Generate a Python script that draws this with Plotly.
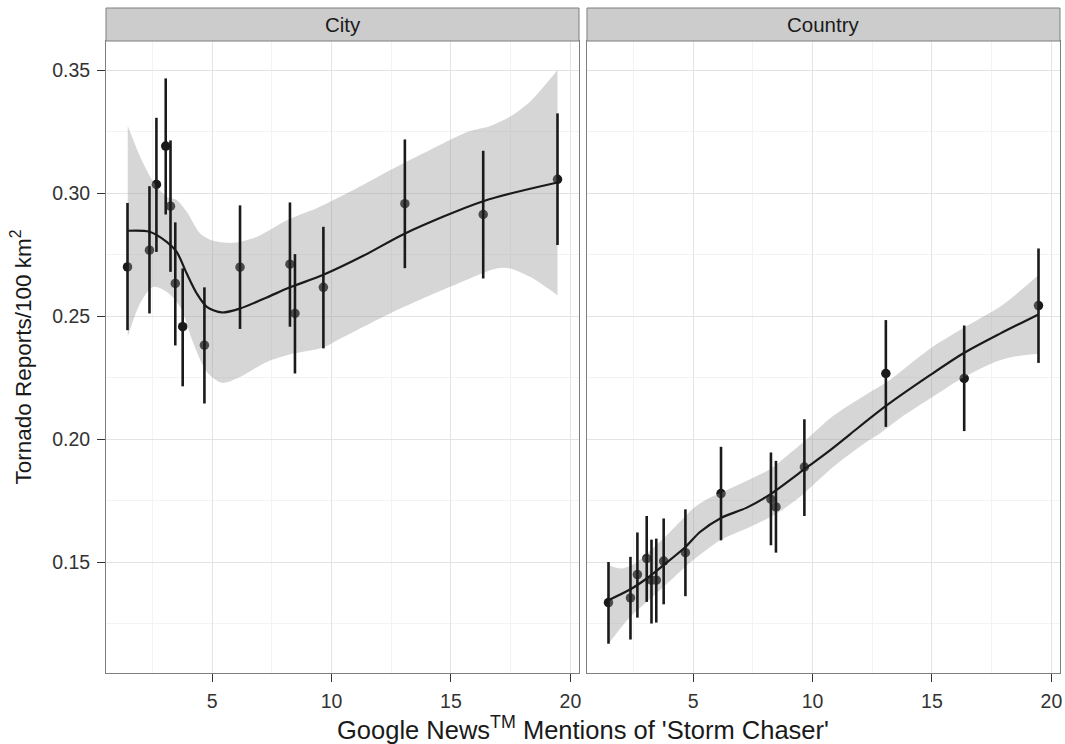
import plotly.graph_objects as go
from plotly.subplots import make_subplots

# ---------------- data ----------------
mentions = [1.46, 2.38, 2.67, 3.06, 3.26, 3.46, 3.77, 4.68, 6.17, 8.26, 8.47, 9.66, 13.07, 16.35, 19.46]

city_y = [0.2700, 0.2768, 0.3035, 0.3191, 0.2947, 0.2633, 0.2457, 0.2382, 0.2699, 0.2711, 0.2511, 0.2617, 0.2957, 0.2913, 0.3056]
city_lo = [0.2443, 0.2511, 0.2761, 0.2913, 0.2680, 0.2381, 0.2215, 0.2145, 0.2448, 0.2457, 0.2267, 0.2369, 0.2695, 0.2653, 0.2789]
city_hi = [0.2960, 0.3028, 0.3306, 0.3466, 0.3214, 0.2881, 0.2694, 0.2617, 0.2950, 0.2962, 0.2752, 0.2863, 0.3218, 0.3172, 0.3324]

country_y = [0.1336, 0.1355, 0.1450, 0.1515, 0.1427, 0.1427, 0.1505, 0.1539, 0.1779, 0.1756, 0.1725, 0.1887, 0.2267, 0.2247, 0.2543]
country_lo = [0.1169, 0.1186, 0.1275, 0.1339, 0.1251, 0.1255, 0.1329, 0.1362, 0.1589, 0.1569, 0.1539, 0.1688, 0.2050, 0.2033, 0.2310]
country_hi = [0.1501, 0.1522, 0.1621, 0.1688, 0.1592, 0.1596, 0.1678, 0.1715, 0.1969, 0.1946, 0.1912, 0.2081, 0.2484, 0.2462, 0.2775]

# smoothed fit
city_fit_x = [1.47, 2.38, 3.10, 3.52, 3.94, 4.36, 4.78, 5.41, 6.17, 7.29, 8.26, 9.66, 11.33, 13.08, 16.35, 19.46]
city_fit_y = [0.2847, 0.2843, 0.2802, 0.2761, 0.2673, 0.2592, 0.2538, 0.2515, 0.2531, 0.2576, 0.2617, 0.2668, 0.2745, 0.2836, 0.2967, 0.3043]
city_up_x = [1.47, 1.99, 2.54, 3.10, 3.52, 3.94, 4.50, 5.05, 5.89, 6.87, 8.13, 9.38, 10.77, 12.45, 14.12, 15.79, 16.63, 17.47, 18.31, 19.00, 19.46]
city_up_y = [0.3274, 0.3148, 0.3046, 0.2985, 0.2972, 0.2924, 0.2836, 0.2806, 0.2798, 0.2822, 0.2890, 0.2938, 0.3005, 0.3093, 0.3175, 0.3252, 0.3272, 0.3310, 0.3371, 0.3446, 0.3500]
city_low_x = [1.47, 1.99, 2.54, 3.10, 3.66, 4.22, 4.78, 5.41, 6.17, 7.29, 8.40, 9.66, 10.36, 12.45, 14.96, 16.91, 17.47, 18.31, 19.46]
city_low_y = [0.2416, 0.2552, 0.2619, 0.2599, 0.2538, 0.2389, 0.2274, 0.2229, 0.2253, 0.2314, 0.2348, 0.2373, 0.2408, 0.2511, 0.2619, 0.2694, 0.2694, 0.2660, 0.2585]

country_fit_x = [1.46, 2.36, 3.06, 3.76, 4.68, 5.29, 6.17, 7.25, 8.26, 9.66, 10.73, 11.57, 13.06, 14.92, 16.35, 17.85, 19.46]
country_fit_y = [0.1346, 0.1389, 0.1434, 0.1488, 0.1562, 0.1623, 0.1680, 0.1722, 0.1778, 0.1878, 0.1955, 0.2020, 0.2134, 0.2260, 0.2351, 0.2429, 0.2507]
country_up_x = [1.46, 2.02, 2.57, 3.13, 3.83, 4.38, 5.08, 5.64, 6.34, 7.38, 8.22, 8.92, 9.76, 10.87, 12.27, 13.10, 14.92, 16.35, 17.85, 18.82, 19.46]
country_up_y = [0.1488, 0.1475, 0.1495, 0.1542, 0.1603, 0.1657, 0.1725, 0.1759, 0.1790, 0.1837, 0.1878, 0.1932, 0.2000, 0.2095, 0.2183, 0.2231, 0.2368, 0.2454, 0.2538, 0.2613, 0.2667]
country_low_x = [1.46, 2.36, 2.99, 3.69, 4.67, 5.29, 6.13, 7.38, 8.50, 9.48, 10.87, 12.27, 12.82, 13.66, 14.92, 16.35, 17.85, 18.82, 19.46]
country_low_y = [0.1169, 0.1278, 0.1332, 0.1393, 0.1481, 0.1530, 0.1589, 0.1643, 0.1698, 0.1766, 0.1888, 0.1990, 0.2023, 0.2085, 0.2165, 0.2253, 0.2321, 0.2341, 0.2346]

panels = ["City", "Country"]
x_ticks = [5, 10, 15, 20]
y_ticks = [0.15, 0.20, 0.25, 0.30, 0.35]
y_tick_labels = ["0.15", "0.20", "0.25", "0.30", "0.35"]

# ---------------- style ----------------
DARK = "#1a1a1a"
RIBBON = "rgba(153,153,153,0.4)"
BORDER = "#7f7f7f"
FONT = "Liberation Sans"
W, H = 1065, 744
ML, MR, MT, MB = 106, 3, 41, 71
plot_h = H - MT - MB

fig = make_subplots(rows=1, cols=2, shared_yaxes=True, horizontal_spacing=8 / (W - ML - MR))

series = [
    (city_y, city_lo, city_hi, city_fit_x, city_fit_y, city_up_x, city_up_y, city_low_x, city_low_y),
    (country_y, country_lo, country_hi, country_fit_x, country_fit_y, country_up_x, country_up_y, country_low_x, country_low_y),
]

for col, (yy, lo, hi, fx, fy, ux, uy, lx, ly) in enumerate(series, start=1):
    # points (under the ribbon)
    fig.add_trace(go.Scatter(x=mentions, y=yy, mode="markers",
                             marker=dict(size=9.5, color=DARK, line=dict(width=0)),
                             showlegend=False, hoverinfo="skip"), row=1, col=col)
    # ribbon
    fig.add_trace(go.Scatter(x=ux, y=uy, mode="lines", line=dict(width=0, shape="spline", smoothing=0.8),
                             showlegend=False, hoverinfo="skip"), row=1, col=col)
    fig.add_trace(go.Scatter(x=lx, y=ly, mode="lines", line=dict(width=0, shape="spline", smoothing=0.8),
                             fill="tonexty", fillcolor=RIBBON,
                             showlegend=False, hoverinfo="skip"), row=1, col=col)
    # error bars
    fig.add_trace(go.Scatter(x=mentions, y=yy, mode="markers",
                             marker=dict(size=1, color="rgba(0,0,0,0)"),
                             error_y=dict(type="data", symmetric=False,
                                          array=[h - v for h, v in zip(hi, yy)],
                                          arrayminus=[v - l for v, l in zip(yy, lo)],
                                          width=0, thickness=2.6, color=DARK),
                             showlegend=False, hoverinfo="skip"), row=1, col=col)
    # smooth line
    fig.add_trace(go.Scatter(x=fx, y=fy, mode="lines",
                             line=dict(width=2.2, color=DARK, shape="spline", smoothing=0.8),
                             showlegend=False, hoverinfo="skip"), row=1, col=col)

xr = [0.56, 20.36]
yr = [0.1050, 0.3618]
axis_common = dict(showline=True, linecolor=BORDER, linewidth=1, mirror=True,
                   gridcolor="#e3e3e3", gridwidth=1, zeroline=False,
                   ticks="outside", ticklen=8, tickcolor="#333333", tickwidth=1,
                   ticklabelstandoff=3,
                   tickfont=dict(family=FONT, size=19.5, color="#333333"))
for i in (1, 2):
    fig.update_xaxes(range=xr, tickvals=x_ticks, ticktext=[str(t) for t in x_ticks],
                     minor=dict(tickvals=[2.5, 7.5, 12.5, 17.5], showgrid=True, gridcolor="#f3f3f3", ticks=""),
                     **axis_common, row=1, col=i)
    fig.update_yaxes(range=yr, tickvals=y_ticks, ticktext=y_tick_labels,
                     minor=dict(tickvals=[0.125, 0.175, 0.225, 0.275, 0.325], showgrid=True,
                                gridcolor="#f3f3f3", ticks=""),
                     **axis_common, row=1, col=i)
fig.update_yaxes(showticklabels=False, ticks="", row=1, col=2)
fig.update_yaxes(title=dict(text="Tornado Reports/100 km<sup>2</sup>",
                            font=dict(family=FONT, size=22.5, color=DARK), standoff=14), row=1, col=1)

# strips
d1 = fig.layout.xaxis.domain
d2 = fig.layout.xaxis2.domain
strip_h = 33 / plot_h
for dom, name in zip([d1, d2], panels):
    fig.add_shape(type="rect", xref="paper", yref="paper", x0=dom[0], x1=dom[1], y0=1, y1=1 + strip_h,
                  fillcolor="#cccccc", line=dict(color=BORDER, width=1), layer="above")
    fig.add_annotation(x=(dom[0] + dom[1]) / 2, y=1 + strip_h / 2, xref="paper", yref="paper",
                       xanchor="center", yanchor="middle",
                       text=name, showarrow=False, font=dict(family=FONT, size=20.5, color=DARK))

fig.add_annotation(x=(d1[0] + d2[1]) / 2, y=-55 / plot_h, xref="paper", yref="paper",
                   xanchor="center", yanchor="middle",
                   text="Google News<sup>TM</sup> Mentions of 'Storm Chaser'", showarrow=False,
                   font=dict(family=FONT, size=25.5, color=DARK))

fig.update_layout(width=W, height=H, plot_bgcolor="white", paper_bgcolor="white",
                  margin=dict(l=ML, r=MR, t=MT, b=MB), showlegend=False)

fig.write_html("out.html", config={"displayModeBar": False},
               post_script="document.body.style.margin='0';document.body.style.padding='0';")
